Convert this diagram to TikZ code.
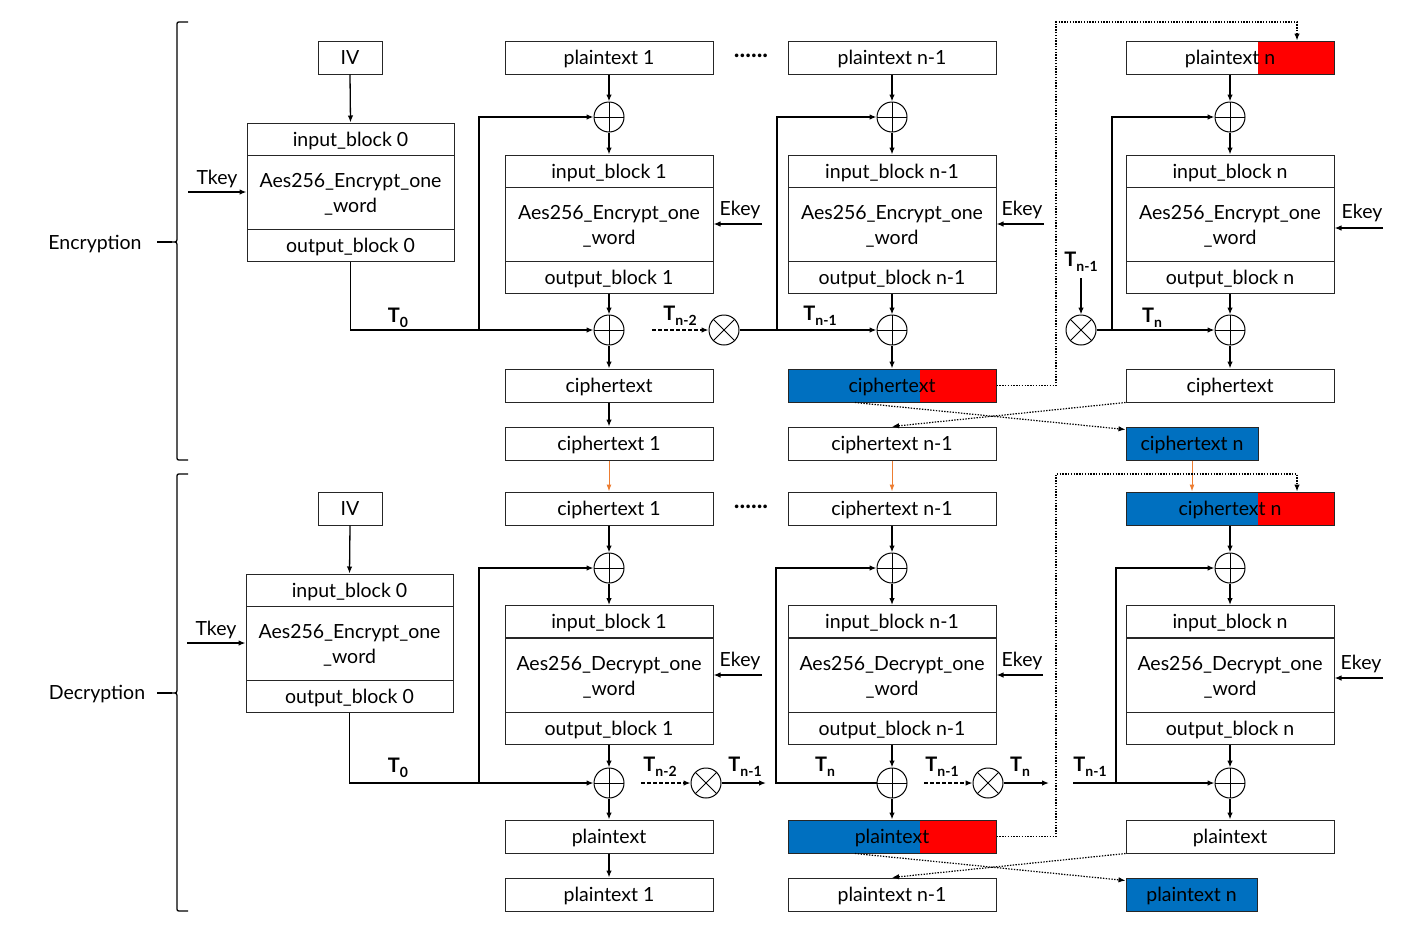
\documentclass[tikz,border=0pt]{standalone}
\usepackage{fontspec}
\setmainfont{Lato}
\usetikzlibrary{arrows.meta,calc}
\definecolor{cblue}{HTML}{0070C0}
\definecolor{cred}{HTML}{FF0000}
\definecolor{corange}{HTML}{ED7D31}
\newcommand\tsub[1]{T\raisebox{-5pt}{\fontsize{14}{14}\selectfont #1}}
\newcommand\twoline[2]{\rule{0pt}{18pt}#1\\#2}
\begin{document}
\begin{tikzpicture}[x=1pt,y=-1pt,
  font=\fontsize{19.5}{22}\selectfont,
  frame/.style={draw=black!85, line width=1pt, rectangle, inner sep=0pt,
    minimum width=208pt, align=center},
  cell/.style={frame, minimum height=33pt, text height=16pt, text depth=2pt},
  rowcell/.style={cell, minimum height=32pt},
  core/.style={frame, minimum height=74pt, font=\fontsize{19.5}{25}\selectfont},
  xor/.style={circle, draw, line width=1pt, minimum size=30pt, inner sep=0pt,
    path picture={\draw[line width=0.9pt] (path picture bounding box.north) -- (path picture bounding box.south)
      (path picture bounding box.west) -- (path picture bounding box.east);}},
  mul/.style={circle, draw, line width=1pt, minimum size=30pt, inner sep=0pt,
    path picture={\draw[line width=0.9pt] (path picture bounding box.north west) -- (path picture bounding box.south east)
      (path picture bounding box.north east) -- (path picture bounding box.south west);}},
  halves/.style n args={3}{path picture={
    \fill[#1] (path picture bounding box.south west) rectangle ([xshift=#3]path picture bounding box.north west);
    \fill[#2] ([xshift=#3]path picture bounding box.south west) rectangle (path picture bounding box.north east);}},
  arr/.style={-{Latex[length=7pt,width=5.5pt]}, line width=1.3pt},
  dasharr/.style={arr, dash pattern=on 4pt off 2pt},
  dotarr/.style={-{Latex[length=7pt,width=5.5pt]}, line width=1.2pt, dash pattern=on 1.4pt off 1.4pt},
  orarr/.style={-{Latex[length=7pt,width=5pt]}, line width=1pt, draw=corange},
  tlab/.style={font=\fontsize{20}{22}\selectfont\bfseries, inner sep=0pt},
  lab/.style={inner sep=0pt, yshift=-2pt},
  dotslab/.style={inner sep=0pt, font=\fontsize{24}{24}\selectfont\bfseries},
  bracepath/.style={line width=1.3pt}
]
\useasboundingbox (0,0) rectangle (1408,948);

% ---------------- side braces ----------------
\draw[bracepath] (188,22) -- (181,22) .. controls (177,22) .. (177,26) -- (177,237)
  .. controls (177,242) .. (172,242) .. controls (177,242) .. (177,247) -- (177,456)
  .. controls (177,460) .. (181,460) -- (188,460);
\draw[bracepath] (157,242) -- (172,242);
\node[lab] (enc) at (95,242) {Encryption};

\draw[bracepath] (188,474) -- (181,474) .. controls (177,474) .. (177,478) -- (177,688)
  .. controls (177,693) .. (172,693) .. controls (177,693) .. (177,698) -- (177,907)
  .. controls (177,911) .. (181,911) -- (188,911);
\draw[bracepath] (157,693) -- (172,693);
\node[lab] (dec) at (97,692) {Decryption};

% ================= ENCRYPTION =================
% column 0
\node[cell, minimum width=64pt] (Eiv) at (350,57.5) {IV};
\node[rowcell, minimum width=207pt] (Ein0) at (350.5,139) {input\_block 0};
\node[core, minimum width=207pt] (Emid0) at (350.5,192) {\twoline{Aes256\_Encrypt\_one}{\_word}};
\node[rowcell, minimum width=207pt] (Eout0) at (350.5,245) {output\_block 0};
\draw[arr] (Eiv.south) -- (Ein0.north);
\coordinate (Etk) at (188,192);
\draw[arr] (Etk) -- (Emid0.west);
\node[lab] (Etkl) at (217,177) {Tkey};

% column 1
\node[cell] (Ept1) at (609,57.5) {plaintext 1};
\node[xor] (Ext1) at (609,117) {};
\node[rowcell] (Ein1) at (609,171) {input\_block 1};
\node[core] (Emid1) at (609,224) {\twoline{Aes256\_Encrypt\_one}{\_word}};
\node[rowcell] (Eout1) at (609,277) {output\_block 1};
\node[xor] (Exb1) at (609,330) {};
\node[cell] (Ect1) at (609,385.5) {ciphertext};
\node[cell] (Ecn1) at (609,443.5) {ciphertext 1};
\draw[arr] (Ept1.south) -- (Ext1.north);
\draw[arr] (Ext1.south) -- (Ein1.north);
\draw[arr] (Eout1.south) -- (Exb1.north);
\draw[arr] (Exb1.south) -- (Ect1.north);
\draw[arr] (Ect1.south) -- (Ecn1.north);
\coordinate (Ek1) at (762,224);
\draw[arr] (Ek1) -- (Emid1.east);
\node[lab] (Ek1l) at (740,208) {Ekey};
\draw[arr] (Eout0.south) |- (Exb1.west);
\coordinate (Ebr1) at (479,330);
\draw[arr] (Ebr1) |- (Ext1.west);
\node[tlab] (ET0) at (398,318) {\tsub{0}};
\node[dotslab] (Edots) at (751,56) {......};

% column 2
\node[mul] (Emul1) at (724,330) {};
\coordinate (Etn2) at (652,330);
\draw[dasharr] (Etn2) -- (Emul1.west);
\node[tlab] (Etn2l) at (680,316) {\tsub{n-2}};
\node[cell] (Ept2) at (892,57.5) {plaintext n-1};
\node[xor] (Ext2) at (892,117) {};
\node[rowcell] (Ein2) at (892,171) {input\_block n-1};
\node[core] (Emid2) at (892,224) {\twoline{Aes256\_Encrypt\_one}{\_word}};
\node[rowcell] (Eout2) at (892,277) {output\_block n-1};
\node[xor] (Exb2) at (892,330) {};
\node[cell, halves={cblue}{cred}{132pt}] (Ect2) at (892,385.5) {ciphertext};
\node[cell] (Ecn2) at (892,443.5) {ciphertext n-1};
\draw[arr] (Ept2.south) -- (Ext2.north);
\draw[arr] (Ext2.south) -- (Ein2.north);
\draw[arr] (Eout2.south) -- (Exb2.north);
\draw[arr] (Exb2.south) -- (Ect2.north);
\coordinate (Ek2) at (1044,224);
\draw[arr] (Ek2) -- (Emid2.east);
\node[lab] (Ek2l) at (1022,208) {Ekey};
\draw[arr] (Emul1.east) -- (Exb2.west);
\coordinate (Ebr2) at (777,330);
\draw[arr] (Ebr2) |- (Ext2.west);
\node[tlab] (Etn1l) at (820,316) {\tsub{n-1}};

% column 3
\node[cell, halves={white}{cred}{132pt}] (Ept3) at (1230,57.5) {plaintext n};
\node[xor] (Ext3) at (1230,117) {};
\node[rowcell] (Ein3) at (1230,171) {input\_block n};
\node[core] (Emid3) at (1230,224) {\twoline{Aes256\_Encrypt\_one}{\_word}};
\node[rowcell] (Eout3) at (1230,277) {output\_block n};
\node[xor] (Exb3) at (1230,330) {};
\node[cell] (Ect3) at (1230,385.5) {ciphertext};
\node[cell, minimum width=132pt, fill=cblue] (Ecn3) at (1192,443.5) {ciphertext n};
\draw[arr] (Ept3.south) -- (Ext3.north);
\draw[arr] (Ext3.south) -- (Ein3.north);
\draw[arr] (Eout3.south) -- (Exb3.north);
\draw[arr] (Exb3.south) -- (Ect3.north);
\coordinate (Ek3) at (1383,228);
\draw[arr] (Ek3) -- (Emid3.east |- Ek3);
\node[lab] (Ek3l) at (1362,211) {Ekey};
\node[mul] (Emul3) at (1081,330) {};
\coordinate (Etn3) at (1081,278);
\draw[arr] (Etn3) -- (Emul3.north);
\node[tlab] (Etn3l) at (1081,262) {\tsub{n-1}};
\draw[arr] (Emul3.east) -- (Exb3.west);
\coordinate (Ebr3) at (1112,330);
\draw[arr] (Ebr3) |- (Ext3.west);
\node[tlab] (Etnl) at (1152,318) {\tsub{n}};

% dotted routing of the stolen ciphertext tail
\coordinate (Ed1) at (1056,22);
\draw[dotarr] (Ect2.east) -| (Ed1) -| ([xshift=67pt]Ept3.north);
\draw[dotarr] ([xshift=-37pt]Ect2.south) -- ([yshift=-3pt]Ecn3.north west);
\draw[dotarr] (Ect3.south west) -- (Ecn2.north);

% hand-over to decryption
\node[cell] (Dct1) at (609,508.5) {ciphertext 1};
\node[cell] (Dct2) at (892,508.5) {ciphertext n-1};
\node[cell, halves={cblue}{cred}{132pt}] (Dct3) at (1230,508.5) {ciphertext n};
\draw[orarr] (Ecn1.south) -- (Dct1.north);
\draw[orarr] (Ecn2.south) -- (Dct2.north);
\draw[orarr] (Ecn3.south) -- (Ecn3.south |- Dct3.north);

% ================= DECRYPTION =================
% column 0
\node[cell, minimum width=64pt] (Div) at (350,508.5) {IV};
\node[rowcell, minimum width=207pt] (Din0) at (349.5,590) {input\_block 0};
\node[core, minimum width=207pt] (Dmid0) at (349.5,643) {\twoline{Aes256\_Encrypt\_one}{\_word}};
\node[rowcell, minimum width=207pt] (Dout0) at (349.5,696) {output\_block 0};
\draw[arr] (Div.south) -- (Din0.north);
\coordinate (Dtk) at (187,643);
\draw[arr] (Dtk) -- (Dmid0.west);
\node[lab] (Dtkl) at (216,628) {Tkey};

% column 1
\node[xor] (Dxt1) at (609,568) {};
\node[rowcell] (Din1) at (609,621.5) {input\_block 1};
\node[core] (Dmid1) at (609,675) {\twoline{Aes256\_Decrypt\_one}{\_word}};
\node[rowcell] (Dout1) at (609,728) {output\_block 1};
\node[xor] (Dxb1) at (609,783) {};
\node[cell] (Dpt1) at (609,836.5) {plaintext};
\node[cell] (Dpl1) at (609,894.5) {plaintext 1};
\draw[arr] (Dct1.south) -- (Dxt1.north);
\draw[arr] (Dxt1.south) -- (Din1.north);
\draw[arr] (Dout1.south) -- (Dxb1.north);
\draw[arr] (Dxb1.south) -- (Dpt1.north);
\draw[arr] (Dpt1.south) -- (Dpl1.north);
\coordinate (Dk1) at (762,675);
\draw[arr] (Dk1) -- (Dmid1.east);
\node[lab] (Dk1l) at (740,659) {Ekey};
\draw[arr] (Dout0.south) |- (Dxb1.west);
\coordinate (Dbr1) at (479,783);
\draw[arr] (Dbr1) |- (Dxt1.west);
\node[tlab] (DT0) at (398,768) {\tsub{0}};
\node[dotslab] (Ddots) at (751,507) {......};
\node[mul] (Dmul1) at (706,783) {};
\coordinate (Dtn2) at (641,783);
\draw[dasharr] (Dtn2) -- (Dmul1.west);
\node[tlab] (Dtn2l) at (660,767) {\tsub{n-2}};
\coordinate (Dout1r) at (766,783);
\draw[arr] (Dmul1.east) -- (Dout1r);
\node[tlab] (Dtn1l) at (745,767) {\tsub{n-1}};

% column 2
\node[xor] (Dxt2) at (892,568) {};
\node[rowcell] (Din2) at (892,621.5) {input\_block n-1};
\node[core] (Dmid2) at (892,675) {\twoline{Aes256\_Decrypt\_one}{\_word}};
\node[rowcell] (Dout2) at (892,728) {output\_block n-1};
\node[xor] (Dxb2) at (892,783) {};
\node[cell, halves={cblue}{cred}{132pt}] (Dpt2) at (892,836.5) {plaintext};
\node[cell] (Dpl2) at (892,894.5) {plaintext n-1};
\draw[arr] (Dct2.south) -- (Dxt2.north);
\draw[arr] (Dxt2.south) -- (Din2.north);
\draw[arr] (Dout2.south) -- (Dxb2.north);
\draw[arr] (Dxb2.south) -- (Dpt2.north);
\coordinate (Dk2) at (1043,675);
\draw[arr] (Dk2) -- (Dmid2.east);
\node[lab] (Dk2l) at (1022,659) {Ekey};
\coordinate (Dbr2) at (776,783);
\draw[arr] (Dxb2.west) -- (Dbr2) |- (Dxt2.west);
\node[tlab] (Dtnl) at (825,767) {\tsub{n}};
\node[mul] (Dmul2) at (988,783) {};
\coordinate (Dtn1) at (924,783);
\draw[dasharr] (Dtn1) -- (Dmul2.west);
\node[tlab] (Dtn1bl) at (942,767) {\tsub{n-1}};
\coordinate (Dout2r) at (1049,783);
\draw[arr] (Dmul2.east) -- (Dout2r);
\node[tlab] (Dtnbl) at (1020,767) {\tsub{n}};

% column 3
\node[xor] (Dxt3) at (1230,568) {};
\node[rowcell] (Din3) at (1230,621.5) {input\_block n};
\node[core] (Dmid3) at (1230,675) {\twoline{Aes256\_Decrypt\_one}{\_word}};
\node[rowcell] (Dout3) at (1230,728) {output\_block n};
\node[xor] (Dxb3) at (1230,783) {};
\node[cell] (Dpt3) at (1230,836.5) {plaintext};
\node[cell, minimum width=131pt, fill=cblue] (Dpl3) at (1191.5,894.5) {plaintext n};
\draw[arr] (Dct3.south) -- (Dxt3.north);
\draw[arr] (Dxt3.south) -- (Din3.north);
\draw[arr] (Dout3.south) -- (Dxb3.north);
\draw[arr] (Dxb3.south) -- (Dpt3.north);
\coordinate (Dk3) at (1383,678);
\draw[arr] (Dk3) -- (Dmid3.east |- Dk3);
\node[lab] (Dk3l) at (1361,662) {Ekey};
\coordinate (Dtn3) at (1073,783);
\draw[arr] (Dtn3) -- (Dxb3.west);
\node[tlab] (Dtn3l) at (1090,767) {\tsub{n-1}};
\coordinate (Dbr3) at (1116,783);
\draw[arr] (Dbr3) |- (Dxt3.west);

% dotted routing of the recovered plaintext tail
\coordinate (Dd1) at (1056,474);
\draw[dotarr] (Dpt2.east) -| (Dd1) -| ([xshift=67pt]Dct3.north);
\draw[dotarr] ([xshift=-37pt]Dpt2.south) -- ([yshift=-3pt]Dpl3.north west);
\draw[dotarr] (Dpt3.south west) -- (Dpl2.north);
\end{tikzpicture}
\end{document}
